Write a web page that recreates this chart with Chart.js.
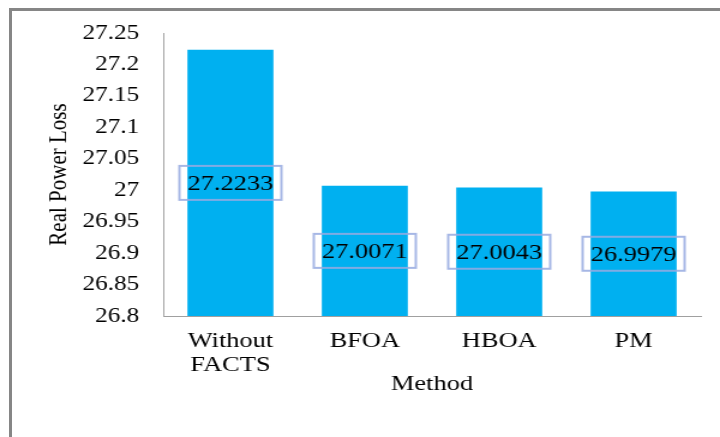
<!DOCTYPE html>
<html>
<head>
<meta charset="utf-8">
<script src="https://cdn.jsdelivr.net/npm/chart.js@4/dist/chart.umd.min.js"></script>
<style>
  html, body { margin: 0; padding: 0; background: #fff; }
  body { width: 720px; height: 437px; position: relative; overflow: hidden; font-family: "Liberation Serif", serif; }
  #frame {
    position: absolute; left: 9px; top: 8px; width: 730px; height: 450px;
    border-left: 3px solid #868686; border-top: 3px solid #868686;
  }
  /* the chart is laid out narrow and widened, the way the figure was scaled */
  #wrap {
    position: absolute; left: 0; top: 0; width: 600px; height: 437px;
    transform: scaleX(1.2); transform-origin: 0 0;
  }
  /* warms up the serif face before the canvas uses it */
  #warm { position: absolute; left: 0; top: 0; visibility: hidden; font-size: 22px; }
</style>
</head>
<body>
<div id="frame"></div>
<div id="wrap"><canvas id="chartCanvas"></canvas></div>
<span id="warm">Method</span>
<script>
const categories = [["Without", "FACTS"], "BFOA", "HBOA", "PM"];
const lossValues = [27.2233, 27.0071, 27.0043, 26.9979];
const yTicks = [26.8, 26.85, 26.9, 26.95, 27, 27.05, 27.1, 27.15, 27.2, 27.25];

const SERIF = "'Liberation Serif', serif";

// boxed value label in the middle of each bar
const valueBoxes = {
  id: "valueBoxes",
  afterDatasetsDraw(chart) {
    const ctx = chart.ctx;
    const yScale = chart.scales.y;
    const meta = chart.getDatasetMeta(0);
    ctx.save();
    ctx.font = "22px " + SERIF;
    ctx.textAlign = "center";
    ctx.textBaseline = "middle";
    meta.data.forEach((bar, i) => {
      const mid = yScale.getPixelForValue((lossValues[i] + yScale.min) / 2);
      ctx.strokeStyle = "rgba(150,170,225,0.85)";
      ctx.lineWidth = 2;
      ctx.strokeRect(bar.x - 42.5, mid - 17, 85, 34);
      ctx.fillStyle = "#000";
      ctx.fillText(lossValues[i].toFixed(4), bar.x, mid + 1);
    });
    ctx.restore();
  }
};

const chart = new Chart(document.getElementById("chartCanvas").getContext("2d"), {
  type: "bar",
  data: {
    labels: categories,
    datasets: [{
      label: "Real Power Loss",
      data: lossValues,
      backgroundColor: "#00b0f0",
      barPercentage: 0.64,
      categoryPercentage: 1
    }]
  },
  plugins: [valueBoxes],
  options: {
    responsive: true,
    maintainAspectRatio: false,
    animation: false,
    layout: { padding: { left: 37, top: 33, right: 16, bottom: 0 } },
    plugins: {
      legend: { display: false },
      tooltip: { enabled: false }
    },
    scales: {
      x: {
        grid: { display: false, drawTicks: false },
        border: { display: true, color: "#a0a0a0", width: 1 },
        ticks: {
          color: "#000",
          padding: 13,
          maxRotation: 0,
          font: { family: SERIF, size: 22, lineHeight: 1.1 }
        },
        title: {
          display: true,
          text: "Method",
          color: "#000",
          font: { family: SERIF, size: 22 },
          padding: { top: 0, bottom: 40 }
        },
        afterFit(scale) { scale.height = 121; }
      },
      y: {
        min: 26.8,
        max: 27.25,
        grid: { display: false, drawTicks: false },
        border: { display: true, color: "#a0a0a0", width: 1 },
        afterBuildTicks(scale) {
          scale.ticks = yTicks.map(v => ({ value: v }));
        },
        ticks: {
          color: "#000",
          padding: 20,
          font: { family: SERIF, size: 21 },
          callback: v => String(v)
        },
        title: {
          display: true,
          text: "Real Power Loss",
          color: "#000",
          font: { family: SERIF, size: 21 },
          padding: { top: 0, bottom: 0 }
        },
        afterFit(scale) { scale.width = 99; }
      }
    }
  }
});

// redraw once the face is in use, so every label picks it up
document.fonts.ready.then(() => chart.update());
setTimeout(() => chart.update(), 150);
</script>
</body>
</html>
